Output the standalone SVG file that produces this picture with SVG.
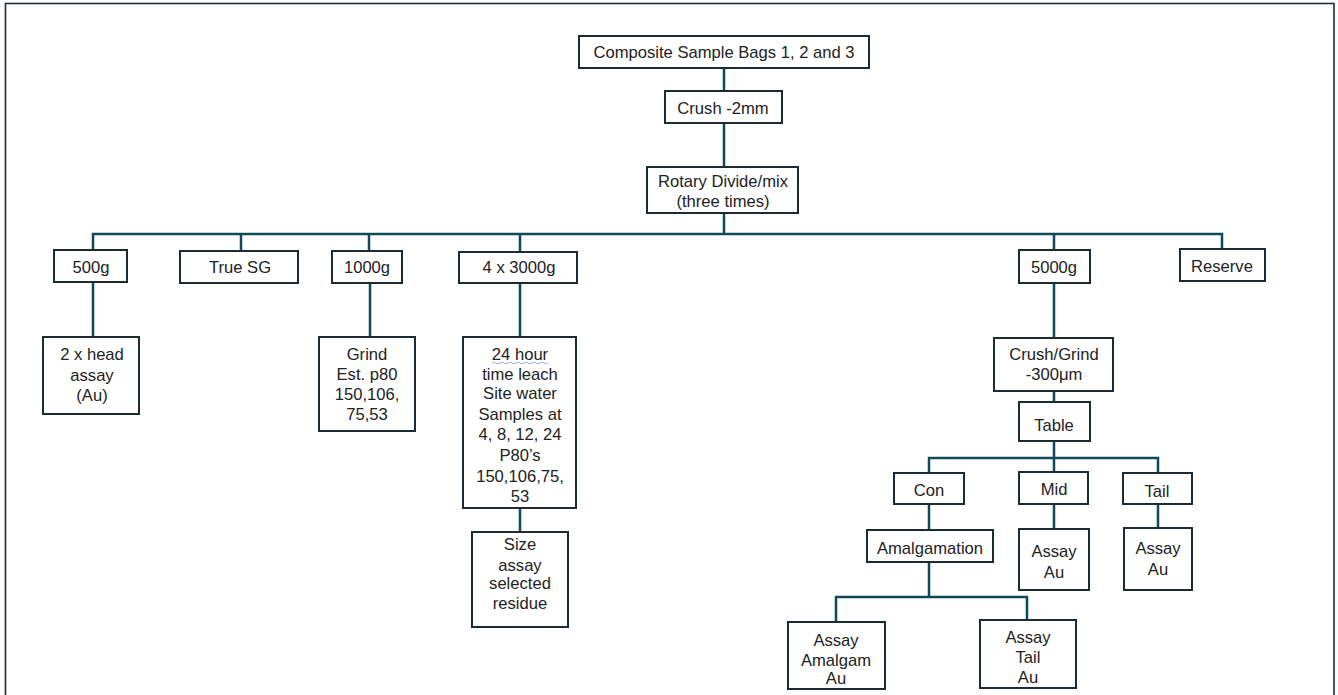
<svg xmlns="http://www.w3.org/2000/svg" width="1338" height="695" viewBox="0 0 1338 695">
<style>
.box{fill:#fff;stroke:#1c2b33;stroke-width:2}
.c{fill:none;stroke:#0e4a5a;stroke-width:2.5}
text{font-family:"Liberation Sans",Arial,sans-serif;font-size:16.6px;fill:#222;text-anchor:middle}
</style>
<rect x="0" y="0" width="1338" height="695" fill="#fff"/>
<rect x="5.5" y="3.5" width="1328.5" height="720" fill="none" stroke="#1e2e36" stroke-width="1.6"/>
<g id="connectors">
<path class="c" d="M724 68V91M724 123V167M724 213V234"/>
<path class="c" d="M93 250V234H1222V249M241 234V251M369 234V251M520 234V252M1054 234V250"/>
<path class="c" d="M93 282V337M370 283V337M520 283V337M520 508V532"/>
<path class="c" d="M1054 283V338M1054 391V402M1054 441V472M929 473V458H1158V473"/>
<path class="c" d="M929 504V530M1054 504V529M1158 504V528"/>
<path class="c" d="M929 562V597M836 622V597H1027V620"/>
</g>
<g id="n-composite"><rect class="box" x="579" y="36" width="290" height="32"/><text x="724" y="58">Composite Sample Bags 1, 2 and 3</text></g>
<g id="n-crush"><rect class="box" x="665" y="91" width="117" height="32"/><text x="723" y="114">Crush -2mm</text></g>
<g id="n-rotary"><rect class="box" x="647" y="167" width="151" height="46"/><text x="723" y="187">Rotary Divide/mix</text><text x="723" y="207">(three times)</text></g>
<g id="n-500g"><rect class="box" x="54" y="250" width="73" height="32"/><text x="91" y="273">500g</text></g>
<g id="n-truesg"><rect class="box" x="180" y="251" width="118" height="32"/><text x="240" y="273">True SG</text></g>
<g id="n-1000g"><rect class="box" x="332" y="251" width="70" height="32"/><text x="367" y="273">1000g</text></g>
<g id="n-3000g"><rect class="box" x="459" y="252" width="118" height="31"/><text x="519" y="273">4 x 3000g</text></g>
<g id="n-5000g"><rect class="box" x="1019" y="250" width="71" height="33"/><text x="1054" y="273">5000g</text></g>
<g id="n-reserve"><rect class="box" x="1180" y="249" width="85" height="32"/><text x="1222" y="272">Reserve</text></g>
<g id="n-head"><rect class="box" x="43" y="337" width="96" height="77"/><text x="92" y="360">2 x head</text><text x="92" y="381">assay</text><text x="92" y="401">(Au)</text></g>
<g id="n-grind"><rect class="box" x="319" y="337" width="96" height="94"/><text x="367" y="360">Grind</text><text x="367" y="380">Est. p80</text><text x="367" y="400">150,106,</text><text x="367" y="420">75,53</text></g>
<g id="n-leach"><rect class="box" x="463" y="337" width="113" height="171"/>
<text x="520" y="360">24 hour</text>
<path d="M492 363q2-1.2 4 0t4 0t4 0t4 0t4 0t4 0t4 0t4 0t4 0t4 0t4 0t4 0t4 0t4 0" fill="none" stroke="#9db3e6" stroke-width="1"/>
<text x="520" y="380">time leach</text><text x="520" y="399">Site water</text><text x="520" y="420">Samples at</text><text x="520" y="440">4, 8, 12, 24</text><text x="520" y="461">P80’s</text><text x="520" y="482">150,106,75,</text><text x="520" y="502">53</text></g>
<g id="n-size"><rect class="box" x="472" y="532" width="96" height="95"/><text x="520" y="550">Size</text><text x="520" y="571">assay</text><text x="520" y="589">selected</text><text x="520" y="609">residue</text></g>
<g id="n-crushgrind"><rect class="box" x="994" y="338" width="119" height="53"/><text x="1054" y="360">Crush/Grind</text><text x="1054" y="380">-300μm</text></g>
<g id="n-table"><rect class="box" x="1019" y="402" width="71" height="39"/><text x="1054" y="431">Table</text></g>
<g id="n-con"><rect class="box" x="894" y="473" width="70" height="31"/><text x="929" y="496">Con</text></g>
<g id="n-mid"><rect class="box" x="1019" y="472" width="69" height="32"/><text x="1054" y="495">Mid</text></g>
<g id="n-tail"><rect class="box" x="1123" y="473" width="69" height="31"/><text x="1157" y="497">Tail</text></g>
<g id="n-amal"><rect class="box" x="867" y="530" width="126" height="32"/><text x="930" y="554">Amalgamation</text></g>
<g id="n-assaymid"><rect class="box" x="1019" y="529" width="70" height="61"/><text x="1054" y="557">Assay</text><text x="1054" y="578">Au</text></g>
<g id="n-assaytail"><rect class="box" x="1124" y="528" width="68" height="62"/><text x="1158" y="554">Assay</text><text x="1158" y="575">Au</text></g>
<g id="n-assayamalgam"><rect class="box" x="788" y="622" width="97" height="67"/><text x="836" y="646">Assay</text><text x="836" y="666">Amalgam</text><text x="836" y="684">Au</text></g>
<g id="n-assaytailau"><rect class="box" x="980" y="620" width="96" height="68"/><text x="1028" y="643">Assay</text><text x="1028" y="663">Tail</text><text x="1028" y="683">Au</text></g>
</svg>
